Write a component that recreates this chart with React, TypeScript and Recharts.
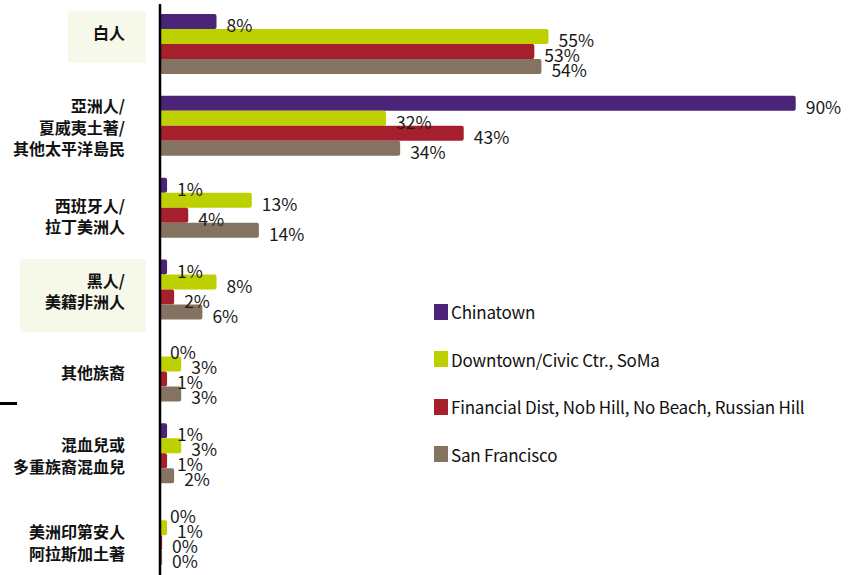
import React from "react";
import { BarChart, Bar, XAxis, YAxis, Legend, LabelList } from "recharts";

// 類別（換行用 \n）
const categories = [
  "白人",
  "亞洲人/\n夏威夷土著/\n其他太平洋島民",
  "西班牙人/\n拉丁美洲人",
  "黑人/\n美籍非洲人",
  "其他族裔",
  "混血兒或\n多重族裔混血兒",
  "美洲印第安人\n阿拉斯加土著",
];

const seriesNames = [
  "Chinatown",
  "Downtown/Civic Ctr., SoMa",
  "Financial Dist, Nob Hill, No Beach, Russian Hill",
  "San Francisco",
];

// 百分比
const chinatown = [8, 90, 1, 1, 0, 1, 0];
const downtown = [55, 32, 13, 8, 3, 3, 1];
const financial = [53, 43, 4, 2, 1, 1, 0.3];
const sanFrancisco = [54, 34, 14, 6, 3, 2, 0.3];

const COLORS = ["#4B2479", "#BDD100", "#A61F2D", "#857362"];
const KEYS = ["chinatown", "downtown", "financial", "sf"];

// label tweaks (style only)
const LABEL_SHIFT = [-13, 0, 7, 0, 0, 1, 6];
const HIGHLIGHT = new Set([0, 3]);

const FONT = '"Noto Sans CJK TC", "Noto Sans CJK JP", sans-serif';
const LATIN = '"Noto Sans CJK JP", "Noto Sans", sans-serif';

const data = categories.map((name, i) => ({
  name,
  chinatown: chinatown[i],
  downtown: downtown[i],
  financial: financial[i],
  sf: sanFrancisco[i],
}));

function CategoryTick(props: any) {
  const { y, payload } = props;
  const idx = categories.indexOf(payload.value);
  const lines = String(payload.value).split("\n");
  const lh = 21.5;
  const right = 125;
  const cy = y + (LABEL_SHIFT[idx] ?? 0);
  const top = cy - (lines.length * lh) / 2;
  const maxChars = Math.max(...lines.map((l) => l.length));
  return (
    <g>
      {HIGHLIGHT.has(idx) && (
        <rect
          x={right - maxChars * 16 - 25}
          y={top - 10}
          width={maxChars * 16 + 46}
          height={lines.length * lh + 30}
          fill="#F6F8E9"
        />
      )}
      {lines.map((l, i) => (
        <text
          key={i}
          x={right}
          y={top + lh * i + lh / 2}
          textAnchor="end"
          dominantBaseline="central"
          fontSize={16}
          fontWeight="bold"
          fontFamily={FONT}
          fill="#111"
        >
          {l}
        </text>
      ))}
    </g>
  );
}

const renderValue = (props: any) => {
  const { x, y, width, height, value } = props;
  return (
    <text
      x={Number(x) + Number(width) + 10}
      y={Number(y) + Number(height) / 2 + 3}
      dominantBaseline="central"
      fontSize={17.5}
      fontFamily={LATIN}
      fill="#1a1a1a"
    >
      {Math.round(Number(value))}%
    </text>
  );
};

const LegendBox = () => (
  <div style={{ fontFamily: LATIN, fontSize: 17, letterSpacing: -0.2, color: "#111" }}>
    {seriesNames.map((n, i) => (
      <div key={n} style={{ display: "flex", alignItems: "center", height: 47.5, whiteSpace: "nowrap" }}>
        <span style={{ width: 14, height: 16, background: COLORS[i], marginRight: 3, display: "inline-block" }} />
        <span>{n}</span>
      </div>
    ))}
  </div>
);

export default function App() {
  return (
    <div style={{ position: "absolute", left: 0, top: 0, width: 856, height: 575, overflow: "hidden", background: "#fff" }}>
      <BarChart
        width={856}
        height={581}
        data={data}
        layout="vertical"
        margin={{ top: 4, right: 25, bottom: 4, left: 0 }}
        barCategoryGap={10}
        barGap={0}
      >
        <XAxis type="number" domain={[0, 95]} hide />
        <YAxis
          type="category"
          dataKey="name"
          width={160}
          axisLine={{ stroke: "#000", strokeWidth: 2.5 }}
          tickLine={false}
          tick={<CategoryTick />}
          interval={0}
        />
        <Legend
          layout="vertical"
          align="center"
          verticalAlign="middle"
          content={<LegendBox />}
          wrapperStyle={{ left: 434, top: 288, width: 410 }}
        />
        {KEYS.map((k, i) => (
          <Bar
            key={k}
            dataKey={k}
            name={seriesNames[i]}
            fill={COLORS[i]}
            radius={[0, 2, 2, 0]}
            minPointSize={(v: number) => (v === 0 ? 0.01 : 0)}
            isAnimationActive={false}
          >
            <LabelList dataKey={k} content={renderValue} />
          </Bar>
        ))}
      </BarChart>
      <div style={{ position: "absolute", left: 0, top: 402, width: 17, height: 3, background: "#000" }} />
    </div>
  );
}
